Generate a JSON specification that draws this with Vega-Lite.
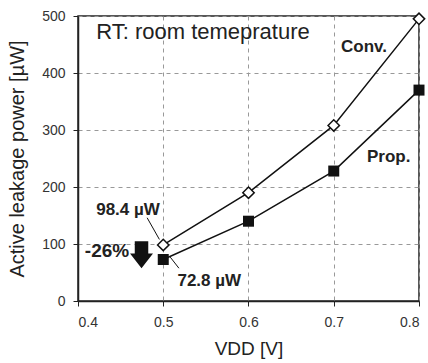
{
  "$schema": "https://vega.github.io/schema/vega-lite/v6.json",
  "width": 341,
  "height": 285,
  "autosize": {"type": "none"},
  "padding": {"left": 78, "top": 16, "right": 9, "bottom": 62},
  "config": {
    "font": "Liberation Sans",
    "view": {"stroke": "#222", "strokeWidth": 1.5},
    "axis": {
      "domainColor": "#222", "domainWidth": 1.5,
      "tickColor": "#222", "tickSize": 5,
      "gridColor": "#999", "gridDash": [4, 4], "gridWidth": 1,
      "labelFont": "Liberation Sans", "labelFontSize": 14, "labelColor": "#333",
      "titleFont": "Liberation Sans", "titleFontWeight": "normal", "titleColor": "#222"
    }
  },
  "datasets": {
    "series": [
      {"vdd": 0.5, "power": 98.4, "series": "Conv."},
      {"vdd": 0.6, "power": 190, "series": "Conv."},
      {"vdd": 0.7, "power": 308, "series": "Conv."},
      {"vdd": 0.8, "power": 495, "series": "Conv."},
      {"vdd": 0.5, "power": 72.8, "series": "Prop."},
      {"vdd": 0.6, "power": 140, "series": "Prop."},
      {"vdd": 0.7, "power": 228, "series": "Prop."},
      {"vdd": 0.8, "power": 370, "series": "Prop."}
    ],
    "leaders": [
      {"x": 0.4811, "y": 146, "x2": 0.4955, "y2": 108},
      {"x": 0.5082, "y": 77, "x2": 0.5184, "y2": 57.5}
    ],
    "boldLabels": [
      {"x": 0.4587, "y": 160, "text": "98.4 µW"},
      {"x": 0.554, "y": 35, "text": "72.8 µW"},
      {"x": 0.7355, "y": 446, "text": "Conv."},
      {"x": 0.7644, "y": 253, "text": "Prop."}
    ],
    "pct": [{"x": 0.434, "y": 87, "text": "-26%"}],
    "arrow": [{"x": 0.4745, "y": 81}],
    "note": [{"x": 0.5466, "y": 472, "text": "RT: room temeprature"}]
  },
  "layer": [
    {
      "data": {"name": "series"},
      "mark": {"type": "line", "color": "#111", "strokeWidth": 1.5},
      "encoding": {
        "x": {"field": "vdd", "type": "quantitative",
              "scale": {"domain": [0.4, 0.8], "nice": false, "zero": false},
              "axis": {"values": [0.4, 0.5, 0.6, 0.7, 0.8], "format": ".1f", "title": "VDD [V]",
                       "titleFontSize": 19, "labelPadding": 9, "titlePadding": 10}},
        "y": {"field": "power", "type": "quantitative",
              "scale": {"domain": [0, 500], "nice": false},
              "axis": {"values": [0, 100, 200, 300, 400, 500], "title": "Active leakage power [µW]",
                       "titleFontSize": 20, "labelPadding": 8, "titlePadding": 14}},
        "detail": {"field": "series"}
      }
    },
    {
      "data": {"name": "series"},
      "transform": [{"filter": "datum.series === 'Conv.'"}],
      "mark": {"type": "point", "shape": "diamond", "filled": true, "fill": "white", "stroke": "#111", "strokeWidth": 1.5, "size": 130, "opacity": 1},
      "encoding": {
        "x": {"field": "vdd", "type": "quantitative"},
        "y": {"field": "power", "type": "quantitative"}
      }
    },
    {
      "data": {"name": "series"},
      "transform": [{"filter": "datum.series === 'Prop.'"}],
      "mark": {"type": "point", "shape": "square", "filled": true, "fill": "#111", "size": 121, "opacity": 1},
      "encoding": {
        "x": {"field": "vdd", "type": "quantitative"},
        "y": {"field": "power", "type": "quantitative"}
      }
    },
    {
      "data": {"name": "leaders"},
      "mark": {"type": "rule", "color": "#111", "strokeWidth": 1},
      "encoding": {
        "x": {"field": "x", "type": "quantitative"},
        "y": {"field": "y", "type": "quantitative"},
        "x2": {"field": "x2"},
        "y2": {"field": "y2"}
      }
    },
    {
      "data": {"name": "boldLabels"},
      "mark": {"type": "text", "fontWeight": "bold", "fontSize": 17, "color": "#222", "align": "center", "baseline": "middle"},
      "encoding": {
        "x": {"field": "x", "type": "quantitative"},
        "y": {"field": "y", "type": "quantitative"},
        "text": {"field": "text"}
      }
    },
    {
      "data": {"name": "pct"},
      "mark": {"type": "text", "fontWeight": "bold", "fontSize": 19, "color": "#222", "align": "center", "baseline": "middle"},
      "encoding": {
        "x": {"field": "x", "type": "quantitative"},
        "y": {"field": "y", "type": "quantitative"},
        "text": {"field": "text"}
      }
    },
    {
      "data": {"name": "arrow"},
      "mark": {"type": "point", "filled": true, "fill": "#111", "opacity": 1, "size": 729,
               "shape": "M-0.5,-1 L0.5,-1 L0.5,-0.1 L0.85,-0.1 L0,1 L-0.85,-0.1 L-0.5,-0.1 Z"},
      "encoding": {
        "x": {"field": "x", "type": "quantitative"},
        "y": {"field": "y", "type": "quantitative"}
      }
    },
    {
      "data": {"name": "note"},
      "mark": {"type": "text", "fontSize": 22, "color": "#222", "align": "center", "baseline": "middle"},
      "encoding": {
        "x": {"field": "x", "type": "quantitative"},
        "y": {"field": "y", "type": "quantitative"},
        "text": {"field": "text"}
      }
    }
  ]
}
